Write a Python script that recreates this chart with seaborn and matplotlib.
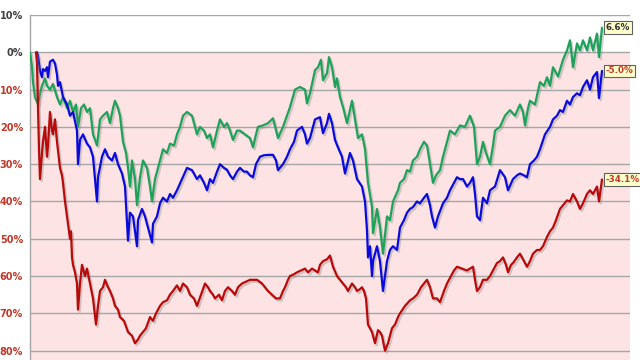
import numpy as np
import pandas as pd
import matplotlib
matplotlib.use("Agg")
import matplotlib.pyplot as plt
import matplotlib.patheffects as pe
import seaborn as sns

# ---- data (x = trading-day index, y = % change from start) ----
green_x = [0, 2, 3, 5, 8, 10, 12, 15, 17, 20, 23, 27, 30, 33, 37, 40, 43, 46, 48, 51, 54, 57, 60, 63, 67,
           70, 73, 77, 80, 83, 85, 88, 90, 93, 96, 98, 100, 102, 105, 107, 110, 113, 117, 120, 122, 125,
           128, 133, 137, 140, 144, 147, 150, 153, 157, 162, 167, 170, 174, 177, 180, 183, 187, 190, 194,
           197, 200, 203, 207, 210, 215, 220, 223, 226, 228, 233, 238, 243, 248, 253, 257, 260, 265, 270,
           275, 277, 280, 285, 288, 291, 293, 297, 299, 302, 305, 307, 310, 313, 317, 322, 325, 328, 332,
           335, 338, 342, 343, 347, 350, 353, 357, 360, 363, 368, 370, 374, 377, 380, 383, 387, 390, 394,
           397, 400, 403, 406, 410, 413, 417, 420, 425, 430, 435, 440, 444, 447, 450, 453, 456, 460, 463,
           465, 470, 475, 480, 485, 490, 493, 495, 498, 500, 505, 510, 514, 517, 520, 523, 528, 533, 537,
           540, 543, 547, 550, 553, 557, 560, 563, 567, 569, 572]
green_y = [0, -4, -8, -12, -14, -11, -9, -7, -9, -10, -8.5, -12, -14, -12, -15, -13, -16, -14, -20, -15,
           -14, -16, -15, -22, -25, -18, -17, -16, -19, -15, -13, -15, -17, -24, -27, -31, -36, -29, -34,
           -41, -33.5, -29, -31, -36, -40, -34, -31, -26, -27, -24.5, -25, -22, -20, -17, -16, -17, -22,
           -20, -21, -23, -22, -25.5, -21, -18, -20, -19, -21, -23.5, -21, -21, -22, -23, -25.5, -22, -20,
           -19.6, -19, -17.7, -23, -20, -17, -14.7, -10, -9.3, -10, -13.7, -11, -4.8, -4, -2, -7.5, -5.6,
           -1.3, -4, -9.3, -7, -12, -14.7, -19, -13, -18, -23, -22, -26, -35, -41.5, -48.5, -42, -47, -54,
           -44, -45, -40, -37, -35, -34, -31.6, -32, -29, -28, -26, -24, -25, -30, -35, -33, -31.6, -28,
           -24, -21, -22, -19.6, -20, -17, -20, -30, -28, -24, -27, -30, -25, -21, -20, -17, -15.5, -17,
           -14, -16, -19.6, -15, -13, -14, -8, -9, -6.7, -9, -4, -6.5, -2, 0.5, 3.2, -4, 2.4, 0.5, 3.2,
           0.5, 4, 0.5, 5, -1.3, 6.6]

blue_x = [7, 8, 10, 12, 13, 15, 17, 18, 20, 23, 25, 27, 28, 30, 33, 37, 40, 43, 47, 48, 50, 53, 57, 60,
          63, 67, 68, 72, 75, 78, 82, 85, 88, 92, 95, 98, 100, 103, 107, 108, 112, 115, 118, 122, 123,
          127, 130, 133, 137, 140, 143, 147, 152, 157, 162, 167, 170, 174, 177, 180, 183, 187, 190, 194,
          197, 200, 203, 207, 210, 214, 217, 220, 223, 226, 230, 234, 238, 243, 246, 248, 253, 257, 260,
          264, 267, 272, 275, 277, 280, 285, 290, 293, 297, 299, 302, 305, 308, 312, 315, 320, 323, 327,
          332, 335, 337, 338, 340, 342, 343, 347, 350, 353, 357, 360, 363, 367, 370, 374, 377, 380, 383,
          387, 390, 394, 397, 400, 402, 405, 408, 413, 417, 420, 424, 427, 430, 433, 437, 440, 443, 445,
          447, 450, 453, 457, 460, 465, 470, 475, 478, 483, 487, 490, 494, 497, 500, 504, 507, 510, 515,
          520, 523, 527, 530, 533, 537, 540, 543, 547, 550, 553, 557, 560, 563, 567, 569, 572]
blue_y = [0, -1, -5, -6.7, -4.5, -5, -4, -6.7, -2.5, -2, -3, -6, -9, -8, -12, -14, -17, -16, -21, -30,
          -23.5, -22, -24.5, -25.5, -28, -40, -33.5, -28, -26, -28, -29, -27, -30, -32.5, -36, -50.5, -43,
          -44, -52, -45, -42, -44, -47, -51, -46, -44, -40.5, -39, -40, -38, -39, -37, -34, -31, -31.6,
          -34, -33, -35, -37, -34, -35, -32, -30, -31, -31.5, -33, -34, -32, -31, -32, -32, -33, -33.5,
          -30, -28, -27.6, -27.5, -27.5, -29, -31.6, -30, -28, -26, -24, -21, -20, -22, -24.5, -23, -18,
          -17.4, -21.7, -19, -16.5, -19, -23.5, -25.5, -28, -32.5, -27, -29, -34, -36, -40, -47.7, -55,
          -52, -60, -56, -52, -56, -64, -56, -53, -52, -53, -47, -45, -43, -42, -41.5, -40, -40.5, -39,
          -38, -41, -44, -47, -44, -40.5, -39, -37, -35, -33.5, -34, -34, -36, -35, -33.5, -38, -44, -45,
          -39, -40.5, -37, -36, -31.6, -33.5, -37, -34, -33, -32.5, -33, -33.5, -30, -29, -28, -26, -22,
          -20, -18, -17, -15.5, -16, -13, -14, -12, -11, -11.5, -9.3, -7.5, -10, -6.7, -5.3, -12.3, -5.0]

red_x = [6, 7, 8, 9, 10, 12, 13, 15, 17, 18, 20, 22, 23, 25, 27, 30, 32, 33, 35, 37, 38, 40, 41, 42,
         43, 45, 47, 48, 50, 52, 55, 57, 60, 63, 66, 68, 70, 73, 75, 78, 80, 83, 85, 88, 90, 94, 98, 102,
         105, 108, 110, 113, 116, 120, 123, 126, 130, 133, 137, 140, 143, 147, 150, 153, 157, 160, 164,
         167, 171, 175, 178, 180, 183, 185, 189, 192, 195, 198, 202, 205, 208, 212, 216, 220, 224, 227,
         232, 235, 238, 242, 246, 250, 253, 255, 258, 260, 264, 267, 271, 275, 278, 282, 285, 288, 290,
         293, 297, 300, 303, 307, 310, 313, 316, 318, 320, 322, 325, 327, 330, 332, 334, 336, 338, 340,
         342, 344, 345, 348, 350, 352, 355, 358, 360, 362, 365, 368, 370, 375, 380, 383, 387, 391, 394,
         397, 400, 403, 407, 410, 414, 417, 421, 424, 427, 432, 437, 440, 443, 445, 447, 450, 453, 457,
         460, 464, 467, 470, 473, 476, 478, 481, 483, 487, 490, 494, 497, 500, 503, 507, 510, 513, 517,
         520, 523, 526, 530, 533, 537, 540, 543, 547, 550, 553, 557, 560, 563, 567, 569, 572]
red_y = [0, -3, -15, -26, -34, -27, -24, -20, -28, -25, -16, -21, -22, -18, -24, -31, -33, -35, -40, -44,
         -46, -50, -48, -55, -57, -59, -62, -69, -62, -57, -60, -58, -62, -66, -73, -68, -64, -63, -61,
         -63, -64, -66, -68, -69, -71, -72, -75, -76, -78, -77, -76, -75, -74, -71, -72, -70, -68, -67,
         -66.5, -65, -64, -62.5, -64, -62, -63, -65, -66, -68, -65, -62, -63, -64, -65, -66, -65, -66.5,
         -64, -63, -64, -65, -63, -62, -61.5, -61, -61, -61, -62, -63, -64, -65, -66, -66, -64, -63, -61,
         -60, -59.5, -59, -58.5, -58, -59, -58, -58.5, -59, -57, -56, -55.5, -54.5, -57.5, -60, -61, -62,
         -63, -64, -63, -62, -63, -64, -63.5, -63, -64, -66, -73, -74, -75, -77, -78, -74.5, -75, -76,
         -80, -78, -76, -74, -73, -71, -70, -68, -66.5, -66, -65, -63, -62, -61, -63, -66, -66, -67, -64,
         -62, -60, -58.5, -57.5, -58, -58.5, -58, -57.5, -61, -64, -63, -61, -61, -60, -58, -56.5, -56,
         -55, -57, -59, -57, -56.5, -55, -54, -56, -57.5, -56, -54, -53, -53, -52, -49.5, -48, -47, -45,
         -42, -41, -39.7, -40, -38, -40, -42, -40.5, -38, -37, -38, -36, -40, -34.1]

series_names = ["Series A", "Series B", "Series C"]
end_labels = ["6.6%", "-5.0%", "-34.1%"]
yticks = [10, 0, -10, -20, -30, -40, -50, -60, -70, -80]

# ---- build long table ----
df = pd.concat([
    pd.DataFrame({"day": green_x, "value": green_y, "series": series_names[0]}),
    pd.DataFrame({"day": blue_x, "value": blue_y, "series": series_names[1]}),
    pd.DataFrame({"day": red_x, "value": red_y, "series": series_names[2]}),
], ignore_index=True)

colors = ["#1ea25a", "#0a0adc", "#b80a0a"]
palette = dict(zip(series_names, colors))

sns.set_style("white")
fig = plt.figure(figsize=(6.4, 3.6), dpi=100)
ax = fig.add_axes([30 / 640, 0, 600 / 640, 345 / 360])

ax.axhspan(-90, 0, color="#fde3e3", zorder=0, lw=0)
for t in yticks:
    ax.axhline(t, color="#a6a6a6", lw=1.0, zorder=1)

sns.lineplot(data=df, x="day", y="value", hue="series", palette=palette,
             estimator=None, errorbar=None, legend=False, linewidth=1.6, ax=ax, zorder=3)

for ln in ax.lines[len(yticks):]:
    ln.set_path_effects([pe.SimpleLineShadow(offset=(1.2, -1.5), shadow_color="#808080", alpha=0.35),
                         pe.Normal()])

ax.set_xlim(0, 600)
ax.set_ylim(-82.5, 10)
ax.set_xticks([])
ax.set_yticks(yticks)
ax.set_yticklabels([f"{abs(t)}%" for t in yticks])
for lab, t in zip(ax.get_yticklabels(), yticks):
    lab.set_color("#404040" if t >= 0 else "#c0392b")
    lab.set_fontweight("bold")
    lab.set_fontsize(7)
ax.tick_params(axis="y", length=0, pad=5)
ax.set_xlabel("")
ax.set_ylabel("")
for s in ["top", "right", "bottom"]:
    ax.spines[s].set_visible(False)
ax.spines["left"].set_color("#a6a6a6")
ax.spines["left"].set_linewidth(1.0)

text_colors = ["#333333", "#c0392b", "#c0392b"]
ends = [(green_x[-1], green_y[-1]), (blue_x[-1], blue_y[-1]), (red_x[-1], red_y[-1])]
for (ex, ey), lab, tc in zip(ends, end_labels, text_colors):
    ax.annotate(lab, xy=(ex, ey), xytext=(2.5, 0), textcoords="offset points",
                ha="left", va="center", fontsize=6.3, fontweight="bold", color=tc, zorder=5,
                bbox=dict(boxstyle="square,pad=0.2", fc="#ffffcc", ec="#606060", lw=0.8))

fig.savefig("out.png", dpi=100)
